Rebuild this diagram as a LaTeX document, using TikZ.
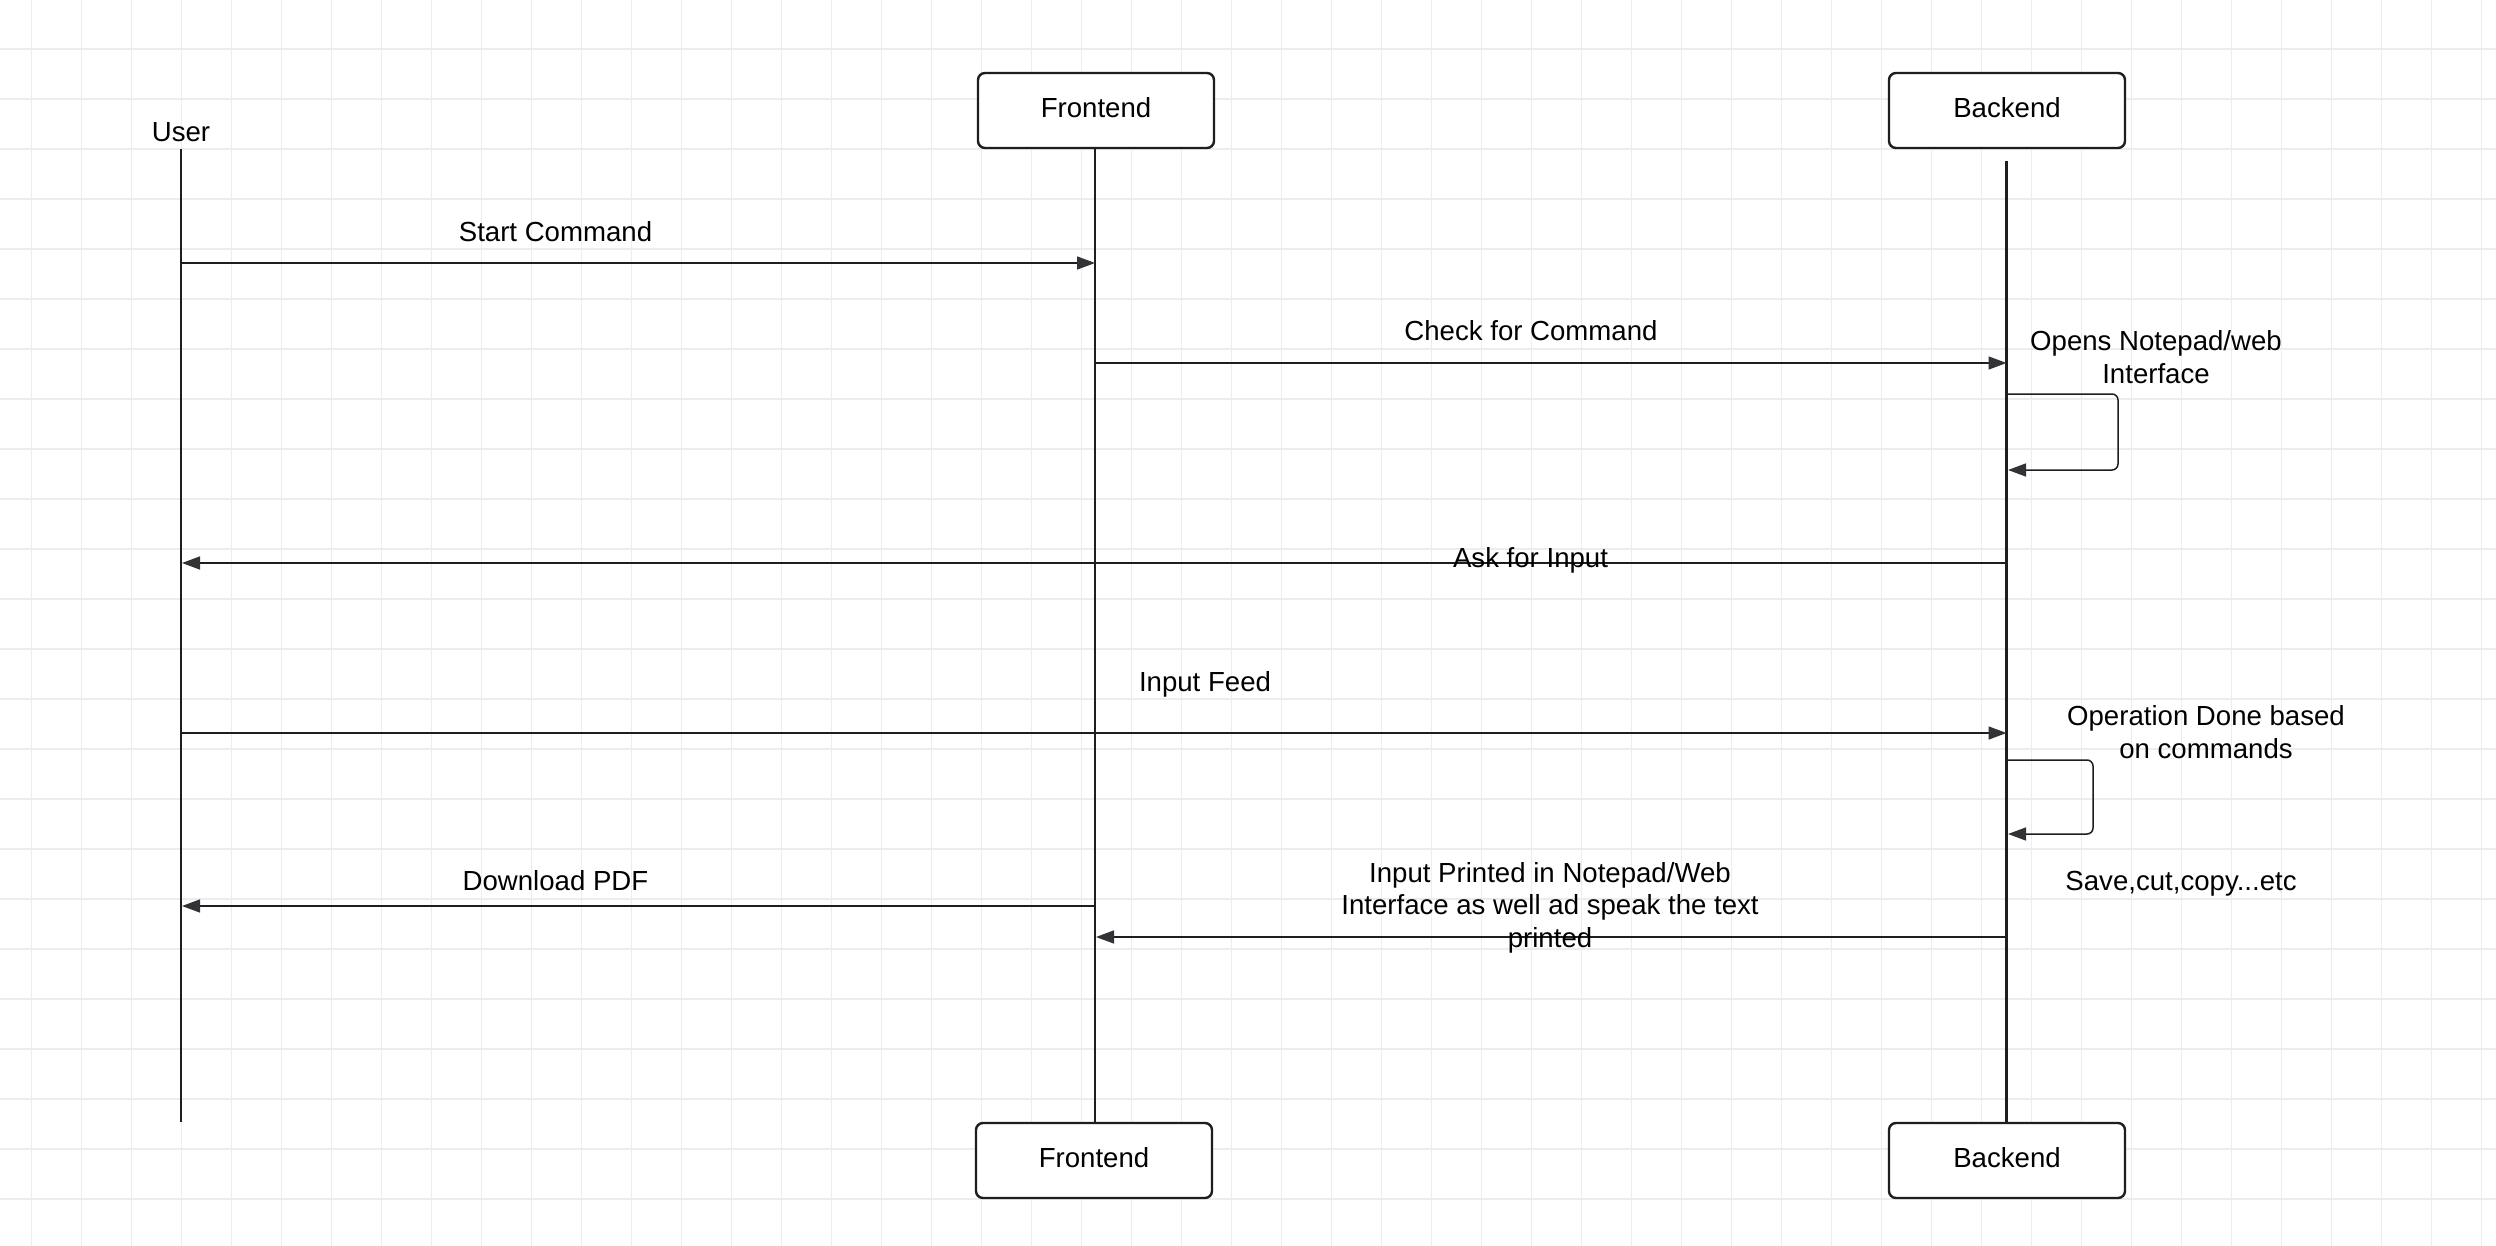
\documentclass[tikz,border=0pt]{standalone}
\usepackage{fontspec}
\setmainfont{Liberation Sans}
\usetikzlibrary{arrows.meta}
\definecolor{gridc}{RGB}{237,237,237}
\definecolor{inkc}{RGB}{30,30,30}
\definecolor{tipc}{RGB}{50,50,55}
\begin{document}
\begin{tikzpicture}[x=0.5pt,y=-0.5pt,
  txt/.style={font=\fontsize{13.8}{16.5}\selectfont, inner sep=0pt, text=black},
  actorbox/.style={draw=inkc, line width=1.2pt, rounded corners=3.5pt, minimum width=118pt, minimum height=37.5pt, fill=white, font=\fontsize{13.8}{16.5}\selectfont, inner sep=0pt, text depth=3pt},
  lifeline/.style={line width=1.1pt, draw=inkc},
  msg/.style={line width=0.75pt, draw=inkc, -{Triangle[length=9pt,width=6.5pt,color=tipc]}},
  selfmsg/.style={msg, rounded corners=3pt},
  gridline/.style={draw=gridc, line width=0.6pt}]
\useasboundingbox (0,0) rectangle (2496,1246);
\fill[white] (0,0) rectangle (2496,1246);
% grid
\foreach \i in {0,...,49} \draw[gridline] ({31.5+50*\i},0) -- ({31.5+50*\i},1246);
\foreach \j in {0,...,23} \draw[gridline] (0,{49+50*\j}) -- (2496,{49+50*\j});

% actors
\node[txt, anchor=base] (user) at (181,142) {User};
\node[actorbox] (ftop) at (1096,110.5) {Frontend};
\node[actorbox] (btop) at (2007,110.5) {Backend};
\node[actorbox] (fbot) at (1094,1160.5) {Frontend};
\node[actorbox] (bbot) at (2007,1160.5) {Backend};

% lifeline coordinates
\coordinate (uTop) at (181,149);
\coordinate (uBot) at (181,1122);
\coordinate (fTop) at (1095,148);
\coordinate (bTop) at (2006.5,161);

\draw[lifeline] (uTop) -- (uBot);
\draw[lifeline] (fTop) -- (fTop |- fbot.north);
\draw[lifeline] (bTop) -- (bTop |- bbot.north);

% message end points
\coordinate (m1a) at (181,263);   \coordinate (m1b) at (1095,263);
\coordinate (m2a) at (1095,363);  \coordinate (m2b) at (2006.5,363);
\coordinate (s1a) at (2006.5,394); \coordinate (s1r) at (2118,394); \coordinate (s1d) at (2118,470); \coordinate (s1b) at (2008,470);
\coordinate (m3a) at (2006.5,563); \coordinate (m3b) at (182,563);
\coordinate (m4a) at (181,733);   \coordinate (m4b) at (2006.5,733);
\coordinate (s2a) at (2006.5,760); \coordinate (s2r) at (2093,760); \coordinate (s2d) at (2093,834); \coordinate (s2b) at (2008,834);
\coordinate (m5a) at (1095,906);  \coordinate (m5b) at (182,906);
\coordinate (m6a) at (2006.5,937); \coordinate (m6b) at (1096,937);

% messages
\draw[msg] (m1a) -- (m1b);
\node[txt, anchor=base] (l1) at (555.5,242) {Start Command};

\draw[msg] (m2a) -- (m2b);
\node[txt, anchor=base] (l2) at (1531,341) {Check for Command};

\draw[selfmsg] (s1a) -- (s1r) -- (s1d) -- (s1b);
\node[txt, anchor=base, align=center] (l3) at (2156,383) {Opens Notepad/web\\Interface};

\draw[msg] (m3a) -- (m3b);
\node[txt, anchor=base] (l4) at (1530.5,567) {Ask for Input};

\draw[msg] (m4a) -- (m4b);
\node[txt, anchor=base] (l5) at (1205,691) {Input Feed};

\draw[selfmsg] (s2a) -- (s2r) -- (s2d) -- (s2b);
\node[txt, anchor=base, align=center] (l6) at (2206,758) {Operation Done based\\on commands};

\draw[msg] (m5a) -- (m5b);
\node[txt, anchor=base] (l7) at (555.5,890) {Download PDF};

\draw[msg] (m6a) -- (m6b);
\node[txt, anchor=base, align=center, font=\fontsize{13.8}{16.2}\selectfont] (l8) at (1550,947) {Input Printed in Notepad/Web\\Interface as well ad speak the text\\printed};

\node[txt, anchor=base] (l9) at (2181,890.5) {Save,cut,copy...etc};
\end{tikzpicture}
\end{document}
